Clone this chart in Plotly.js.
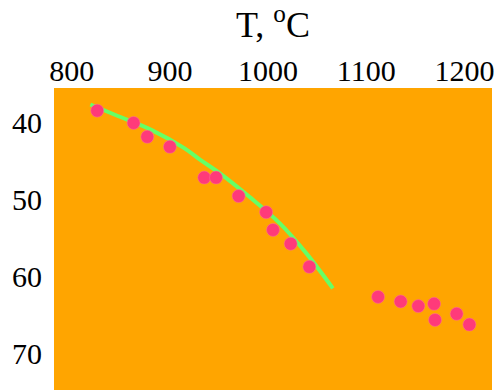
<!DOCTYPE html>
<html><head><meta charset="utf-8">
<script src="https://cdn.plot.ly/plotly-3.0.1.min.js"></script>
<style>html,body{margin:0;padding:0;background:#fff;}</style>
</head><body>
<div id="chart" style="width:499px;height:390px;"></div>
<script>
// Measured points
const tempPoints = [826, 863, 877, 900, 935, 947, 970, 998, 1005, 1023, 1042, 1112, 1135, 1153, 1169, 1170, 1192, 1205];
const valuePoints = [38.5, 40.1, 41.9, 43.2, 47.2, 47.2, 49.6, 51.7, 54.0, 55.8, 58.8, 62.7, 63.3, 63.9, 63.6, 65.7, 64.9, 66.3];
// Fitted curve
const tempCurve = [819, 847, 881, 915, 931, 951, 981, 1012, 1039, 1066];
const valueCurve = [37.7, 39.2, 41.0, 43.4, 44.9, 46.65, 49.7, 53.15, 57.05, 61.6];
const xTicks = [800, 900, 1000, 1100, 1200];
const yTicks = [40, 50, 60, 70];

const font = "Liberation Serif";
const traces = [
  {x: tempCurve, y: valueCurve, mode: 'lines', type: 'scatter',
   line: {color: '#66ff66', width: 4, shape: 'spline', smoothing: 1}, hoverinfo: 'skip'},
  {x: tempPoints, y: valuePoints, mode: 'markers', type: 'scatter',
   marker: {color: '#ff3a7a', size: 13, line: {color: '#ff6f9a', width: 0.5}}}
];
const layout = {
  width: 499, height: 390,
  margin: {l: 54, r: 7, t: 88, b: 0, pad: 0},
  paper_bgcolor: '#ffffff', plot_bgcolor: '#ffa500',
  showlegend: false,
  font: {family: font, color: '#000', size: 30},
  xaxis: {side: 'top', range: [782, 1228], tickvals: xTicks, ticktext: xTicks.map(String),
    showgrid: false, zeroline: false, showline: false, ticks: '', ticklen: 0,
    tickfont: {family: font, size: 30, color: '#000'},
    title: {text: 'T, <sup>o</sup>C', font: {family: font, size: 36, color: '#000'}, standoff: 6}},
  yaxis: {range: [74.8, 35.56], tickvals: yTicks, ticktext: yTicks.map(String),
    showgrid: false, zeroline: false, showline: false, ticks: 'outside', ticklen: 5, tickcolor: 'rgba(0,0,0,0)',
    tickfont: {family: font, size: 30, color: '#000'}}
};
Plotly.newPlot('chart', traces, layout, {staticPlot: true, displayModeBar: false});
</script>
</body></html>
